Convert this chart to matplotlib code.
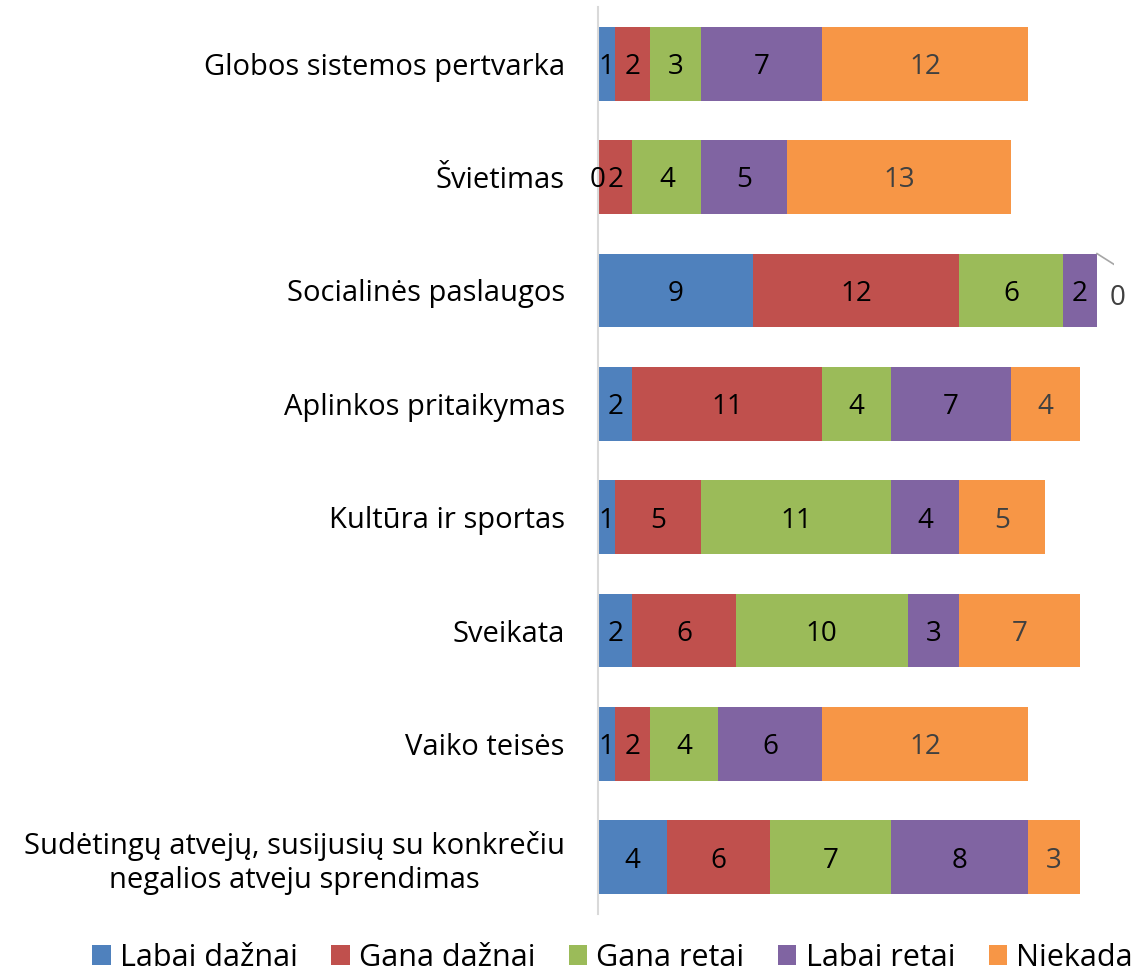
import numpy as np
import matplotlib
matplotlib.use("Agg")
import matplotlib.pyplot as plt

plt.rcParams['font.family'] = ['Open Sans', 'DejaVu Sans']

categories = ["Globos sistemos pertvarka", "Švietimas", "Socialinės paslaugos",
              "Aplinkos pritaikymas", "Kultūra ir sportas", "Sveikata",
              "Vaiko teisės",
              "Sudėtingų atvejų, susijusių su konkrečiu\nnegalios atveju sprendimas"]
series_names = ["Labai dažnai", "Gana dažnai", "Gana retai", "Labai retai", "Niekada"]
labai_daznai = [1, 0, 9, 2, 1, 2, 1, 4]
gana_daznai = [2, 2, 12, 11, 5, 6, 2, 6]
gana_retai = [3, 4, 6, 4, 11, 10, 4, 7]
labai_retai = [7, 5, 2, 7, 4, 3, 6, 8]
niekada = [12, 13, 0, 4, 5, 7, 12, 3]
colors = ["#4F81BD", "#C0504D", "#9BBB59", "#8064A2", "#F79646"]
label_colors = ["black", "black", "black", "black", "#404040"]

data = [labai_daznai, gana_daznai, gana_retai, labai_retai, niekada]

fig = plt.figure(figsize=(11.47, 9.73), dpi=100)
ax = fig.add_axes([0.5214, 0.0606, 0.45, 0.9322])

y = np.arange(len(categories))
left = np.zeros(len(categories))
for vals, name, c, lc in zip(data, series_names, colors, label_colors):
    vals = np.array(vals, dtype=float)
    ax.barh(y, vals, left=left, height=0.65, color=c, label=name)
    for yi, (l, v) in enumerate(zip(left, vals)):
        if v == 0 and l > 20:
            # zero label outside with leader line
            ax.plot([l, l + 1.3], [yi - 0.325, yi - 0.2], color="#A6A6A6", lw=1.2)
            ax.text(l + 1.2, yi + 0.07, "0", ha="center", va="center",
                    fontsize=20, color="#404040")
        else:
            ax.text(l + v / 2, yi + 0.03, str(int(v)), ha="center", va="center",
                    fontsize=20, color=lc)
    left += vals

ax.set_xlim(0, 30)
ax.set_ylim(len(categories) - 0.5, -0.5)
ax.set_yticks(y)
ax.set_yticklabels(categories, fontsize=21, multialignment="center")
ax.tick_params(axis="y", length=0, pad=24)
ax.set_xticks([])
for s in ["top", "right", "bottom"]:
    ax.spines[s].set_visible(False)
ax.spines["left"].set_color("#D9D9D9")
ax.spines["left"].set_linewidth(1.5)

fig.legend(loc="lower center", bbox_to_anchor=(0.534, -0.028), ncol=5, fontsize=22,
           frameon=False, handlelength=0.6, handleheight=0.6, handletextpad=0.3,
           columnspacing=1.1)

fig.savefig("out.png", dpi=100)
